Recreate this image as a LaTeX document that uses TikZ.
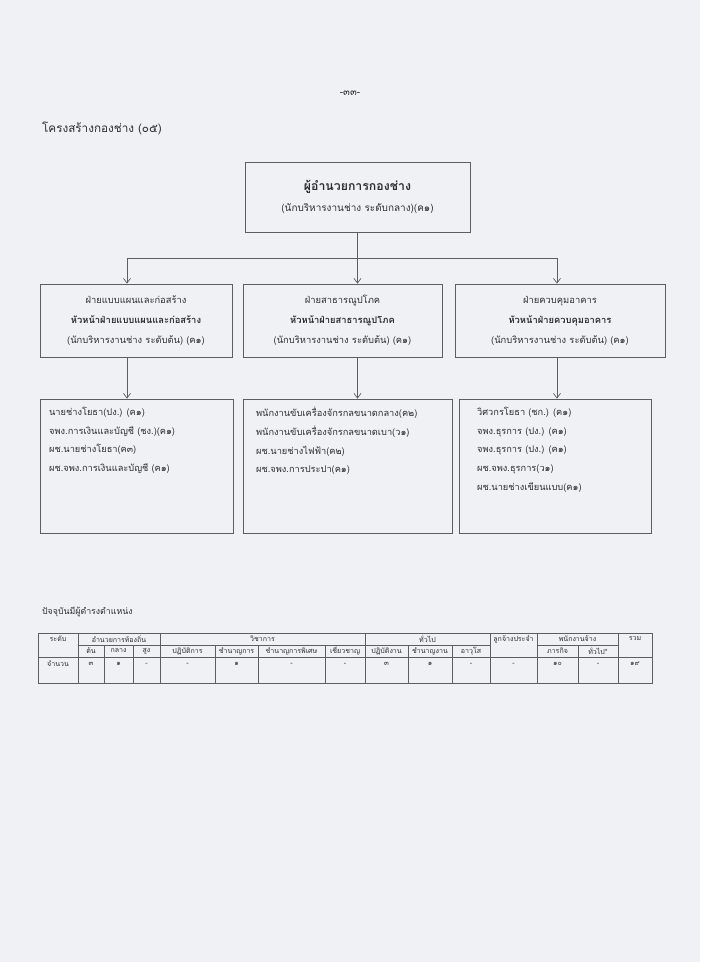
\documentclass[tikz,border=0pt]{standalone}
\usepackage{fontspec}
\setmainfont{Loma}[Script=Thai]
\newfontfamily\thaifont[Script=Thai]{Loma}
\usetikzlibrary{positioning,arrows.meta}

\definecolor{paper}{HTML}{EFF1F4}
\definecolor{ink}{HTML}{2E2E2E}
\definecolor{rule}{HTML}{5E5E5E}

\tikzset{
  orgbox/.style={draw=rule, line width=0.6pt, rectangle, inner sep=0pt},
  headtext/.style={text=ink, align=center, font=\thaifont\fontsize{8.5}{18}\selectfont},
  unittext/.style={text=ink, align=center, font=\thaifont\fontsize{8}{17}\selectfont},
  stafftext/.style={text=ink, align=left, anchor=north west, font=\thaifont\fontsize{7.9}{16}\selectfont},
  link/.style={draw=rule, line width=0.6pt},
  cell/.style={text=ink, inner sep=0pt, font=\thaifont\fontsize{6}{6.5}\selectfont},
}

\begin{document}
\begin{tikzpicture}[x=0.03cm, y=-0.03cm, >={Straight Barb[length=4pt,width=6pt]}]
  \fill[paper] (0,0) rectangle (700,962);
  \useasboundingbox (0,0) rectangle (700,962);

  % page number and title
  \node[text=ink, font=\thaifont\fontsize{8.5}{9}\selectfont] (pageno) at (350,93) {-๓๓-};
  \node[text=ink, anchor=west, font=\thaifont\fontsize{10}{12}\selectfont] (title) at (38,128) {โครงสร้างกองช่าง (๐๕)};

  % director
  \node[orgbox, minimum width=6.75cm, minimum height=2.1cm] (dir) at (357.5,197) {};
  \node[headtext] (dirtext) at (dir) {{\fontsize{10.5}{18}\selectfont\bfseries ผู้อำนวยการกองช่าง}\\(นักบริหารงานช่าง ระดับกลาง)(ค๑)};

  % units
  \node[orgbox, minimum width=5.76cm, minimum height=2.19cm] (unitA) at (136,320.5) {};
  \node[orgbox, minimum width=5.97cm, minimum height=2.19cm] (unitB) at (342.5,320.5) {};
  \node[orgbox, minimum width=6.3cm, minimum height=2.19cm] (unitC) at (560,320.5) {};
  \node[unittext] (unitAtext) at (unitA) {ฝ่ายแบบแผนและก่อสร้าง\\\textbf{หัวหน้าฝ่ายแบบแผนและก่อสร้าง}\\(นักบริหารงานช่าง ระดับต้น) (ค๑)};
  \node[unittext] (unitBtext) at (unitB) {ฝ่ายสาธารณูปโภค\\\textbf{หัวหน้าฝ่ายสาธารณูปโภค}\\(นักบริหารงานช่าง ระดับต้น) (ค๑)};
  \node[unittext] (unitCtext) at (unitC) {ฝ่ายควบคุมอาคาร\\\textbf{หัวหน้าฝ่ายควบคุมอาคาร}\\(นักบริหารงานช่าง ระดับต้น) (ค๑)};

  % staff
  \node[orgbox, minimum width=5.79cm, minimum height=4.02cm] (staffA) at (136.5,466) {};
  \node[orgbox, minimum width=6.27cm, minimum height=4.02cm] (staffB) at (347.5,466) {};
  \node[orgbox, minimum width=5.76cm, minimum height=4.02cm] (staffC) at (555,466) {};
  \node[stafftext] (staffAtext) at (45,403) {นายช่างโยธา(ปง.) (ค๑)\\จพง.การเงินและบัญชี (ชง.)(ค๑)\\ผช.นายช่างโยธา(ค๓)\\ผช.จพง.การเงินและบัญชี (ค๑)};
  \node[stafftext] (staffBtext) at (252,403) {พนักงานขับเครื่องจักรกลขนาดกลาง(ค๒)\\พนักงานขับเครื่องจักรกลขนาดเบา(ว๑)\\ผช.นายช่างไฟฟ้า(ค๒)\\ผช.จพง.การประปา(ค๑)};
  \node[stafftext] (staffCtext) at (473,403) {วิศวกรโยธา (ชก.) (ค๑)\\จพง.ธุรการ (ปง.) (ค๑)\\จพง.ธุรการ (ปง.) (ค๑)\\ผช.จพง.ธุรการ(ว๑)\\ผช.นายช่างเขียนแบบ(ค๑)};

  % connectors
  \coordinate (busA) at (127,258);
  \coordinate (busB) at (357.5,258);
  \coordinate (busC) at (557,258);
  \draw[link] (dir.south) -- (busB);
  \draw[link] (busA) -- (busC);
  \draw[link,->] (busA) -- (busA |- unitA.north);
  \draw[link,->] (busB) -- (busB |- unitB.north);
  \draw[link,->] (busC) -- (busC |- unitC.north);
  \draw[link,->] (busA |- unitA.south) -- (busA |- staffA.north);
  \draw[link,->] (busB |- unitB.south) -- (busB |- staffB.north);
  \draw[link,->] (busC |- unitC.south) -- (busC |- staffC.north);

  % table
  \node[text=ink, anchor=west, font=\thaifont\fontsize{7.5}{9}\selectfont] (tabcap) at (38,612) {ปัจจุบันมีผู้ดำรงตำแหน่ง};
  \draw[rule, line width=0.5pt] (38,633) rectangle (652,683);
  \draw[rule, line width=0.5pt] (38,657) -- (652,657);
  \draw[rule, line width=0.5pt] (78,645) -- (490,645) (537,645) -- (618,645);
  \foreach \x in {78,160,365,490,537,618}
    \draw[rule, line width=0.5pt] (\x,633) -- (\x,683);
  \foreach \x in {104,133,215,258,325,408,452,578}
    \draw[rule, line width=0.5pt] (\x,645) -- (\x,683);

  \foreach \x/\t [count=\i] in {58/ระดับ, 119/อำนวยการท้องถิ่น, 262.5/วิชาการ, 427.5/ทั่วไป, 513.5/ลูกจ้างประจำ, 577.5/พนักงานจ้าง, 635/รวม}
    \node[cell] (grp\i) at (\x,639) {\t};
  \foreach \x/\t [count=\i] in {91/ต้น, 118.5/กลาง, 146.5/สูง, 187.5/ปฏิบัติการ, 236.5/ชำนาญการ, 291.5/ชำนาญการพิเศษ, 345/เชี่ยวชาญ, 386.5/ปฏิบัติงาน, 430/ชำนาญงาน, 471/อาวุโส, 557.5/ภารกิจ, 598/ทั่วไป*}
    \node[cell] (sub\i) at (\x,651) {\t};
  \node[cell] (rowlabel) at (58,664) {จำนวน};
  \foreach \x/\t [count=\i] in {91/๓, 118.5/๑, 146.5/-, 187.5/-, 236.5/๑, 291.5/-, 345/-, 386.5/๓, 430/๑, 471/-, 513.5/-, 557.5/๑๐, 598/-, 635/๑๙}
    \node[cell] (val\i) at (\x,664) {\t};
\end{tikzpicture}
\end{document}
